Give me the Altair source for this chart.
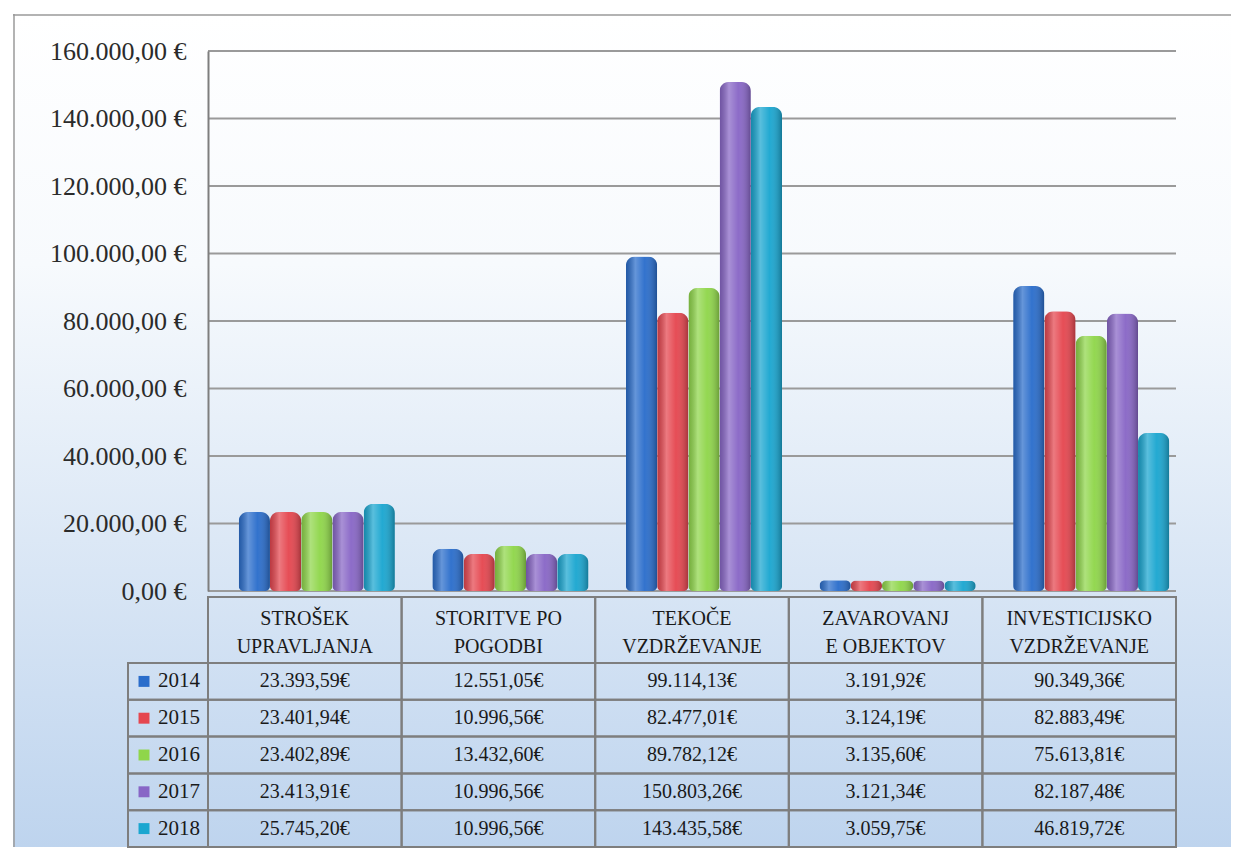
import altair as alt
import pandas as pd

# ---------------- data ----------------
categories = [
    "STROŠEK\nUPRAVLJANJA",
    "STORITVE PO\nPOGODBI",
    "TEKOČE\nVZDRŽEVANJE",
    "ZAVAROVANJ\nE OBJEKTOV",
    "INVESTICIJSKO\nVZDRŽEVANJE",
]
years = ["2014", "2015", "2016", "2017", "2018"]
values_2014 = [23393.59, 12551.05, 99114.13, 3191.92, 90349.36]
values_2015 = [23401.94, 10996.56, 82477.01, 3124.19, 82883.49]
values_2016 = [23402.89, 13432.60, 89782.12, 3135.60, 75613.81]
values_2017 = [23413.91, 10996.56, 150803.26, 3121.34, 82187.48]
values_2018 = [25745.20, 10996.56, 143435.58, 3059.75, 46819.72]
y_ticks = [0, 20000, 40000, 60000, 80000, 100000, 120000, 140000, 160000]
colors = ["#2a6dcb", "#e5464f", "#8fd64a", "#8866c6", "#1aa6d0"]

series = {
    "2014": values_2014,
    "2015": values_2015,
    "2016": values_2016,
    "2017": values_2017,
    "2018": values_2018,
}
df = pd.DataFrame(
    [{"category": c, "year": y, "value": v}
     for y in years for c, v in zip(categories, series[y])]
)
tick_df = pd.DataFrame({"tick": y_ticks})
hdr_df = pd.DataFrame({"category": categories})
year_df = pd.DataFrame({"year": years})
one = pd.DataFrame({"k": [0]})

# ---------------- layout / style ----------------
W, H = 968, 540
GAP, HDR_H, BODY_H = 6, 66, 184
TOTAL = H + GAP + HDR_H + BODY_H
BG_L, BG_R, BG_T = -195, W + 55, -37
FONT = "Liberation Serif"
GRID = "#9a9a9a"
BORDER = "#7e7e7e"

EURO = ("replace(replace(replace(format({v}, ',.2f'), regexp(',', 'g'), '_'), "
        "regexp('[.]', 'g'), ','), regexp('_', 'g'), '.')")

color_scale = alt.Scale(domain=years, range=colors)
yscale = alt.Scale(domain=[0, 160000], nice=False)
yaxis = alt.Axis(
    values=y_ticks, title=None, grid=False, ticks=False, tickSize=0,
    labelExpr=EURO.format(v="datum.value") + " + ' €'",
    labelFont=FONT, labelFontSize=26, labelColor="#2b2b2b", labelPadding=22,
    domainColor=BORDER, domainWidth=2, zindex=1,
)

# ---------------- background (one continuous gradient) ----------------
bg_grad = alt.Gradient(
    gradient="linear", x1=0, x2=0, y1=0, y2=1,
    stops=[
        alt.GradientStop(color="#ffffff", offset=0),
        alt.GradientStop(color="#f7fafd", offset=0.3),
        alt.GradientStop(color="#bed4ee", offset=1),
    ],
)
bg = alt.Chart(one).mark_rect(fill=bg_grad, strokeWidth=0).encode(
    x=alt.value(BG_L), x2=alt.value(BG_R), y=alt.value(BG_T), y2=alt.value(TOTAL)
)
frame_left = alt.Chart(one).mark_rule(color=GRID, strokeWidth=1.5).encode(
    x=alt.value(BG_L + 1), y=alt.value(BG_T), y2=alt.value(TOTAL)
)
frame_top = alt.Chart(one).mark_rule(color=GRID, strokeWidth=1.5).encode(
    x=alt.value(BG_L), x2=alt.value(BG_R), y=alt.value(BG_T + 1)
)

# ---------------- chart panel ----------------
grid = alt.Chart(tick_df).mark_rule(color=GRID, strokeWidth=2).encode(
    y=alt.Y("tick:Q", scale=yscale, axis=yaxis)
)
base = alt.Chart(df).encode(
    x=alt.X("category:N", sort=categories,
            scale=alt.Scale(paddingInner=0, paddingOuter=0), axis=None),
    xOffset=alt.XOffset("year:N", sort=years,
                        scale=alt.Scale(paddingInner=0, paddingOuter=0.6, align=0.82)),
    y=alt.Y("value:Q", scale=yscale, axis=yaxis),
)
corner = dict(cornerRadiusTopLeft=9, cornerRadiusTopRight=9,
              cornerRadiusBottomLeft=5, cornerRadiusBottomRight=5)
bars = base.mark_bar(**corner).encode(
    color=alt.Color("year:N", scale=color_scale, legend=None)
)
shade_grad = alt.Gradient(
    gradient="linear", x1=0, x2=1, y1=0, y2=0,
    stops=[
        alt.GradientStop(color="rgba(0,0,0,0.18)", offset=0),
        alt.GradientStop(color="rgba(255,255,255,0.28)", offset=0.3),
        alt.GradientStop(color="rgba(255,255,255,0.04)", offset=0.6),
        alt.GradientStop(color="rgba(0,0,0,0.28)", offset=1),
    ],
)
shade = base.mark_bar(fill=shade_grad, **corner)

chart_panel = alt.layer(bg, frame_left, frame_top, grid, bars, shade).properties(
    width=W, height=H
)

# ---------------- table header (offset by GAP below the plot) ----------------
xcat = alt.X("category:N", sort=categories,
             scale=alt.Scale(paddingInner=0, paddingOuter=0), axis=None)
hdr_cells = alt.Chart(hdr_df).mark_rect(
    fillOpacity=0, stroke=BORDER, strokeWidth=2
).encode(x=xcat, y=alt.value(GAP), y2=alt.value(GAP + HDR_H))
hdr_text = alt.Chart(hdr_df).mark_text(
    lineBreak="\n", font=FONT, fontSize=20, lineHeight=28, color="#1a1a1a",
    baseline="middle", dy=-11
).encode(x=xcat, y=alt.value(GAP + HDR_H / 2), text="category:N")
header_panel = alt.layer(hdr_cells, hdr_text).properties(
    width=W, height=GAP + HDR_H
)

# ---------------- table body ----------------
yrow = alt.Y("year:N", sort=years,
             scale=alt.Scale(paddingInner=0, paddingOuter=0), axis=None)
cells = alt.Chart(df).mark_rect(
    fillOpacity=0, stroke=BORDER, strokeWidth=2
).encode(x=xcat, y=yrow)
cell_text = alt.Chart(df).transform_calculate(
    label=EURO.format(v="datum.value") + " + '€'"
).mark_text(font=FONT, fontSize=20, color="#1a1a1a").encode(
    x=xcat, y=yrow, text="label:N"
)
year_cells = alt.Chart(year_df).mark_rect(
    fillOpacity=0, stroke=BORDER, strokeWidth=2
).encode(x=alt.value(-80), x2=alt.value(0), y=yrow)
year_marks = alt.Chart(year_df).mark_square(size=120, opacity=1).encode(
    x=alt.value(-64), y=yrow,
    color=alt.Color("year:N", scale=color_scale, legend=None),
)
year_text = alt.Chart(year_df).mark_text(
    font=FONT, fontSize=21, color="#1a1a1a"
).encode(x=alt.value(-29), y=yrow, text="year:N")
body_panel = alt.layer(
    cells, cell_text, year_cells, year_marks, year_text
).properties(width=W, height=BODY_H)

chart = (
    alt.vconcat(chart_panel, header_panel, body_panel, spacing=0, bounds="flush")
    .resolve_scale(x="independent", y="independent", color="shared")
    .properties(padding={"left": 4, "top": 5, "right": 0, "bottom": 0})
    .configure_view(stroke=None)
)

chart.save("out.html", embed_options={"renderer": "svg", "actions": False})
